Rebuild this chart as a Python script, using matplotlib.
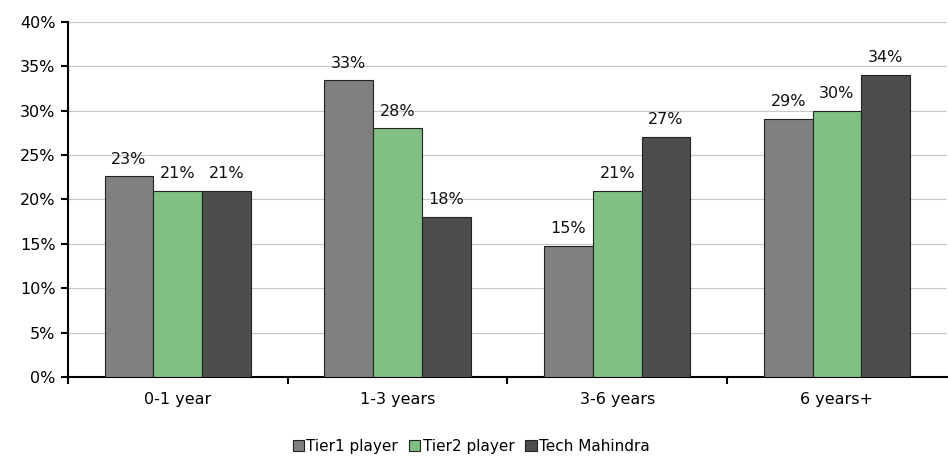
import numpy as np
import matplotlib
matplotlib.use('Agg')
import matplotlib.pyplot as plt
from matplotlib.ticker import FuncFormatter, FixedLocator

# Dados
categorias = ['0-1 year', '1-3 years', '3-6 years', '6 years+']
tier1 = [22.6, 33.4, 14.8, 29.1]
tier2 = [21.0, 28.0, 21.0, 30.0]
tech_mahindra = [21.0, 18.0, 27.0, 34.0]
series_nomes = ['Tier1 player', 'Tier2 player', 'Tech Mahindra']
cores = ['#808080', '#80c080', '#4d4d4d']

plt.rcParams['font.family'] = ['Verdana', 'DejaVu Sans']
plt.rcParams['font.size'] = 11.5

fig = plt.figure(figsize=(9.48, 4.59), dpi=100)
ax = fig.add_axes([0.0717, 0.1786, 0.927, 0.774])

x = np.arange(len(categorias))
largura = 0.222
for i, (vals, nome, cor) in enumerate(zip([tier1, tier2, tech_mahindra], series_nomes, cores)):
    pos = x + (i - 1) * largura
    barras = ax.bar(pos, vals, largura, color=cor, edgecolor='#222222', linewidth=0.8,
                    label=nome, zorder=3)
    for b, v in zip(barras, vals):
        ax.annotate(f'{v:.0f}%', (b.get_x() + b.get_width() / 2, v),
                    xytext=(0, 7), textcoords='offset points', ha='center', va='bottom',
                    fontsize=11.5, color='#111111')

ax.set_xlim(-0.5, 3.5)
ax.set_ylim(0, 40)
ax.set_yticks(np.arange(0, 41, 5))
ax.yaxis.set_major_formatter(FuncFormatter(lambda v, p: f'{v:.0f}%'))
ax.set_xticks(x)
ax.set_xticklabels(categorias)
ax.xaxis.set_minor_locator(FixedLocator([-0.5, 0.5, 1.5, 2.5]))
ax.tick_params(axis='x', which='major', length=0, pad=11)
ax.tick_params(axis='x', which='minor', length=5, width=1.5, direction='out')
ax.tick_params(axis='y', length=5, width=1.5, direction='out', pad=4)
ax.grid(axis='y', color='#c8c8c8', linewidth=0.8, zorder=0)

for lado in ['top', 'right']:
    ax.spines[lado].set_visible(False)
ax.spines['left'].set_linewidth(1.5)
ax.spines['bottom'].set_linewidth(1.5)

fig.legend(loc='lower center', bbox_to_anchor=(0.497, -0.018), ncol=3, frameon=False,
           handlelength=0.75, handleheight=0.75, handletextpad=0.15, columnspacing=0.7,
           fontsize=11)

fig.savefig('out.png', dpi=100)
